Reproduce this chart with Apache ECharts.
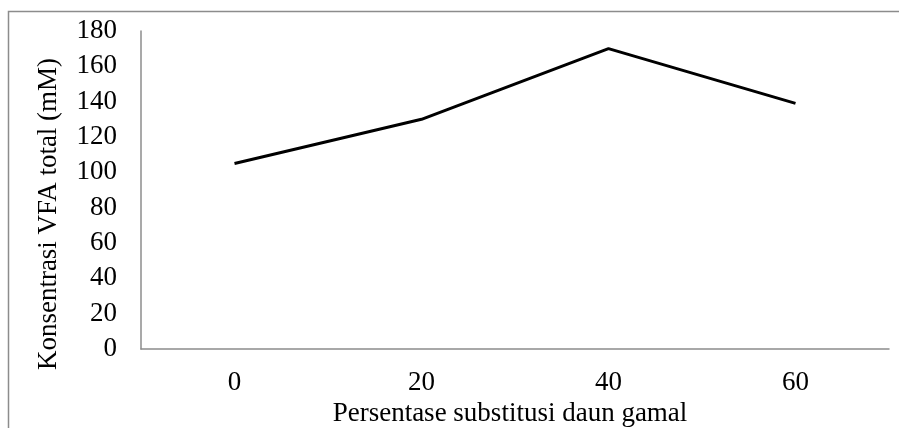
<!DOCTYPE html>
<html>
<head>
<meta charset="utf-8">
<script src="https://cdn.jsdelivr.net/npm/echarts@6/dist/echarts.min.js"></script>
<style>
  html, body { margin: 0; padding: 0; background: #fff; }
  #chart { width: 899px; height: 428px; }
</style>
</head>
<body>
<div id="chart"></div>
<script>
// persentase substitusi daun gamal (%)
const categories = ['0', '20', '40', '60'];
// konsentrasi VFA total (mM)
const vfaValues = [105, 130, 170, 139];

const font = '"Liberation Serif", "Times New Roman", serif';
const axisGray = '#8c8c8c';

const myChart = echarts.init(document.getElementById('chart'));

const option = {
  animation: false,
  textStyle: { fontFamily: font },
  graphic: [{
    type: 'rect',
    shape: { x: 8.5, y: 11.5, width: 1000, height: 1000 },
    style: { fill: 'none', stroke: axisGray, lineWidth: 1.5 },
    silent: true
  }],
  grid: { left: 141, right: 10, top: 31, bottom: 79, containLabel: false, outerBoundsMode: 'none' },
  xAxis: {
    type: 'category',
    data: categories,
    boundaryGap: true,
    name: 'Persentase substitusi daun gamal',
    nameLocation: 'middle',
    nameGap: 46,
    nameTextStyle: { fontFamily: font, fontSize: 27, color: '#000', padding: [0, 10, 0, 0] },
    axisLine: { lineStyle: { color: axisGray, width: 1.5 } },
    axisTick: { show: false },
    axisLabel: { fontFamily: font, fontSize: 27, color: '#000', margin: 20 },
    splitLine: { show: false }
  },
  yAxis: {
    type: 'value',
    min: 0,
    max: 180,
    interval: 20,
    name: 'Konsentrasi VFA total (mM)',
    nameLocation: 'middle',
    nameGap: 79,
    nameTextStyle: { fontFamily: font, fontSize: 27, color: '#000', padding: [0, 48, 0, 0] },
    axisLine: { show: true, lineStyle: { color: axisGray, width: 1.5 } },
    axisTick: { show: false },
    axisLabel: { fontFamily: font, fontSize: 27, color: '#000', margin: 24 },
    splitLine: { show: false }
  },
  series: [{
    type: 'line',
    data: vfaValues,
    symbol: 'none',
    lineStyle: { color: '#000', width: 3 }
  }]
};

if (option && myChart) myChart.setOption(option);
</script>
</body>
</html>
